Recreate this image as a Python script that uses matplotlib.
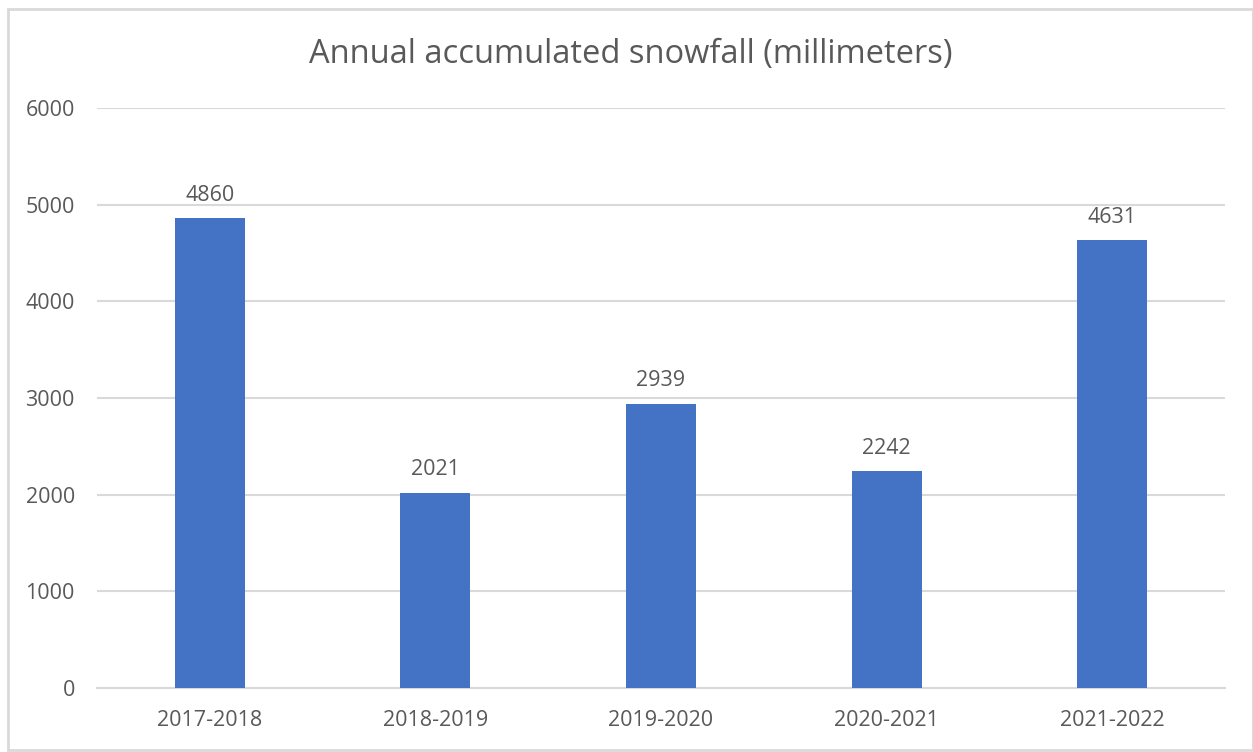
import matplotlib
matplotlib.use("Agg")
import matplotlib.pyplot as plt
from matplotlib.patches import Rectangle

seasons = ["2017-2018", "2018-2019", "2019-2020", "2020-2021", "2021-2022"]
snowfall = [4860, 2021, 2939, 2242, 4631]
yticks = [0, 1000, 2000, 3000, 4000, 5000, 6000]
title = "Annual accumulated snowfall (millimeters)"

plt.rcParams['font.family'] = ['Open Sans', 'DejaVu Sans']
txt = '#595959'

fig = plt.figure(figsize=(12.53, 7.52), dpi=100)
fig.patches.append(Rectangle((8/1253, 2/752), 1 - 8/1253, 1 - 11/752, transform=fig.transFigure,
                             fill=False, edgecolor='#d9d9d9', linewidth=2))
ax = fig.add_axes([97/1253, 1 - 688/752, (1225 - 97)/1253, (688 - 108)/752])

x = list(range(len(seasons)))
bars = ax.bar(x, snowfall, width=0.31, color='#4472C4', zorder=3)
for xi, v in zip(x, snowfall):
    ax.annotate(f"{v}", (xi, v), xytext=(0, 9), textcoords='offset points',
                ha='center', va='bottom', fontsize=15.5, color=txt)

ax.set_xlim(-0.5, len(seasons) - 0.5)
ax.set_ylim(0, 6000)
ax.set_yticks(yticks)
ax.set_yticklabels([str(t) for t in yticks])
ax.set_xticks(x)
ax.set_xticklabels(seasons)
ax.tick_params(axis='both', length=0, labelsize=15.5, labelcolor=txt)
ax.tick_params(axis='y', pad=16)
ax.tick_params(axis='x', pad=16)
ax.grid(axis='y', color='#d9d9d9', linewidth=1.5, zorder=0)
for s in ['top', 'right', 'left']:
    ax.spines[s].set_visible(False)
ax.spines['bottom'].set_color('#d9d9d9')
ax.spines['bottom'].set_linewidth(1.5)

fig.text(631/1253, 1 - 55/752, title, ha='center', va='center', fontsize=23.5, color=txt)

fig.savefig("out.png", dpi=100)
